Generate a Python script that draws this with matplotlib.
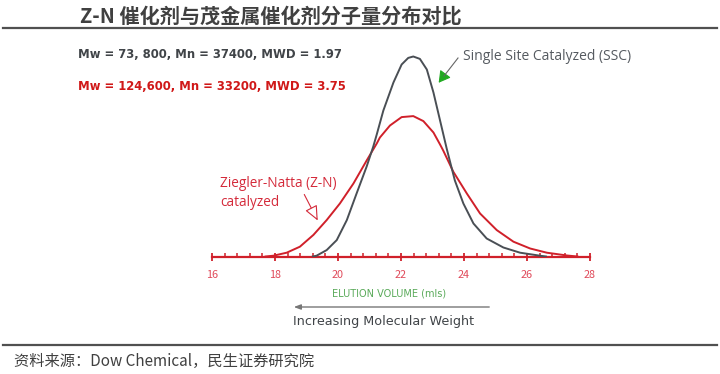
import matplotlib
matplotlib.use("Agg")
import matplotlib.pyplot as plt
from matplotlib.patches import FancyArrowPatch

plt.rcParams['font.family'] = ['Noto Sans CJK SC', 'DejaVu Sans']

# elution volume (mls) and detector response (SSC peak = 100)
ssc_x = [19.20, 19.32, 19.64, 19.96, 20.28, 20.59, 20.91, 21.12, 21.23, 21.44,
         21.76, 22.02, 22.23, 22.39, 22.60, 22.82, 23.03, 23.24, 23.45, 23.71,
         23.98, 24.30, 24.72, 25.25, 25.78, 26.41, 26.60]
ssc_y = [0, 0.4, 3.2, 8.2, 18.2, 31.5, 45, 55, 61, 73,
         87, 96, 99.3, 100, 98.8, 93.5, 82, 68, 54, 38,
         26.5, 16.5, 9, 4.5, 1.9, 0.4, 0]

zn_x = [17.70, 17.95, 18.37, 18.79, 19.22, 19.64, 20.06, 20.49, 20.91, 21.23,
        21.33, 21.65, 22.02, 22.39, 22.71, 23.03, 23.24, 23.34, 23.66, 24.09,
        24.51, 25.04, 25.57, 26.10, 26.63, 27.27, 27.60]
zn_y = [0, 0.4, 1.9, 4.9, 10.8, 18.2, 26.5, 36.5, 48, 56.5,
        59.5, 65.5, 69.7, 70.2, 67.7, 62, 56, 53, 42.4, 31.5,
        21.5, 13.2, 7.4, 4, 1.9, 0.5, 0]

ticks = [16, 18, 20, 22, 24, 26, 28]

W, H = 720, 374
RED = '#d0202a'
GRAY = '#4a4f55'


def fx(px):
    return px / W


def fy(py):
    return 1 - py / H


fig = plt.figure(figsize=(7.2, 3.74), dpi=100)
fig.patch.set_facecolor('white')

# title and rules
fig.text(fx(80), fy(16), 'Z-N 催化剂与茂金属催化剂分子量分布对比', fontsize=14.5,
         fontweight='bold', color='#404040', va='center', ha='left')
fig.add_artist(plt.Line2D([fx(3), fx(717)], [fy(28), fy(28)], color='#505050', lw=1.6))
fig.add_artist(plt.Line2D([fx(3), fx(717)], [fy(345), fy(345)], color='#505050', lw=1.6))
fig.text(fx(14), fy(361), '资料来源：Dow Chemical，民生证券研究院', fontsize=11,
         color='#404040', va='center', ha='left')

# plot area
ax = fig.add_axes([fx(212), fy(256.5), 378 / W, 220 / H])
ax.set_xlim(16, 28)
ax.set_ylim(0, 110)
ax.patch.set_alpha(0)
for s in ['top', 'right', 'left']:
    ax.spines[s].set_visible(False)
ax.spines['bottom'].set_color(RED)
ax.spines['bottom'].set_linewidth(1.6)
ax.set_yticks([])
ax.set_xticks(ticks)
ax.set_xticklabels([str(t) for t in ticks])
ax.set_xticks([16 + 0.4 * i for i in range(31)], minor=True)
ax.tick_params(axis='x', which='major', direction='inout', length=6, width=1.3,
               color=RED, labelcolor='#e04a5a', labelsize=7.8, pad=7)
ax.tick_params(axis='x', which='minor', direction='in', length=3, width=1.1, color=RED)

ax.plot(zn_x, zn_y, color=RED, lw=1.4, zorder=3, solid_joinstyle='round')
ax.plot(ssc_x, ssc_y, color=GRAY, lw=1.4, zorder=3, solid_joinstyle='round')

# labels
fig.text(fx(78), fy(54), 'Mw = 73, 800, Mn = 37400, MWD = 1.97', fontsize=8.4,
         fontweight='bold', color='#404448', va='center', ha='left', family='DejaVu Sans')
fig.text(fx(78), fy(87), 'Mw = 124,600, Mn = 33200, MWD = 3.75', fontsize=8.4,
         fontweight='bold', color='#d01818', va='center', ha='left', family='DejaVu Sans')
fig.text(fx(463), fy(56), 'Single Site Catalyzed (SSC)', fontsize=10,
         color='#555a60', va='center', ha='left', family='Open Sans')
fig.text(fx(220), fy(193), 'Ziegler-Natta (Z-N)\ncatalyzed', fontsize=9.8,
         color='#d42a3a', va='center', ha='left', family='Open Sans', linespacing=1.4)

# SSC pointer: grey shaft with green head
fig.add_artist(plt.Line2D([fx(458), fx(444)], [fy(58), fy(76)], color='#666666', lw=0.8))
fig.add_artist(FancyArrowPatch((fx(446), fy(73)), (fx(437), fy(85)),
                               transform=fig.transFigure,
                               arrowstyle='-|>,head_length=7,head_width=4',
                               fc='#22aa22', ec='#22aa22', lw=0.8))
# Z-N pointer: hollow head
fig.add_artist(FancyArrowPatch((fx(303), fy(192)), (fx(319), fy(223)),
                               transform=fig.transFigure,
                               arrowstyle='-|>,head_length=9,head_width=4',
                               fc='white', ec='#d42a3a', lw=0.8))

fig.text(fx(389), fy(293), 'ELUTION VOLUME (mls)', fontsize=7, color='#5aaa5a',
         va='center', ha='center', family='DejaVu Sans')
fig.add_artist(FancyArrowPatch((fx(492), fy(307)), (fx(291), fy(307)),
                               transform=fig.transFigure,
                               arrowstyle='-|>,head_length=4,head_width=1.5',
                               color='#777777', lw=1.0))
fig.text(fx(293), fy(321), 'Increasing Molecular Weight', fontsize=9.2, color='#404448',
         va='center', ha='left', family='DejaVu Sans')

fig.savefig('out.png', dpi=100, facecolor='white')
